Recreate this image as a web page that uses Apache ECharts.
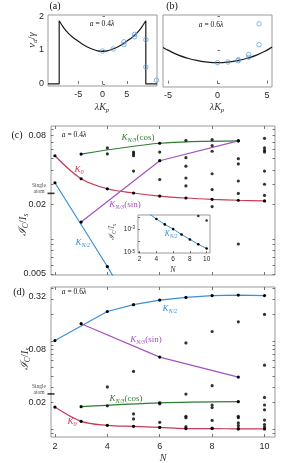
<!DOCTYPE html>
<html><head><meta charset="utf-8">
<script src="https://cdn.jsdelivr.net/npm/echarts@6/dist/echarts.min.js"></script>
<style>html,body{margin:0;padding:0;background:#fff}#c{width:287px;height:463px}</style>
</head><body><div id="c"></div>
<script>
// ---------- panel (a) ----------
const aCurveK = [-11.2, -8.9, -8.9, -8, -7, -6, -5, -4, -3, -2, -1, 0, 1, 2, 3, 4, 5, 6, 7, 8, 8.9, 8.9, 11.2];
const aCurveV = [0, 0, 1.86, 1.66, 1.49, 1.36, 1.26, 1.16, 1.08, 1.02, 0.975, 0.96, 0.975, 1.02, 1.08, 1.16, 1.26, 1.36, 1.49, 1.66, 1.86, 0, 0];
const aCircK = [0, 2.2, 4.4, 4.4, 6.6, 6.6, 8.9, 8.9, 11.1];
const aCircV = [0.97, 1.03, 1.24, 1.16, 1.46, 1.39, 1.3, 0.5, 0.11];
// ---------- panel (b) ----------
const bCurveK = [-5.5, -5, -4, -3, -2, -1, 0, 1, 2, 3, 4, 5, 5.5];
const bCurveV = [1.07, 0.99, 0.85, 0.75, 0.68, 0.635, 0.62, 0.635, 0.68, 0.75, 0.85, 0.99, 1.08];
const bCircK = [0, 1.05, 2.1, 2.1, 3.15, 3.15, 4.2, 4.2];
const bCircV = [0.62, 0.64, 0.71, 0.68, 0.86, 0.78, 1.77, 1.15];
// ---------- panel (c) ----------
const cN = [2, 3, 4, 5, 6, 7, 8, 9, 10];
const cK0 = [0.053, 0.0335, 0.0274, 0.0252, 0.0237, 0.0228, 0.0222, 0.0218, 0.0215];
const cCosN = [3, 6, 9], cCos = [0.0548, 0.068, 0.0714];
const cSinN = [3, 6, 9], cSin = [0.0141, 0.048, 0.0714];
const cHalfN = [2, 4, 6], cHalf = [0.0309, 0.0058, 0.001];
const cDotN = [4, 4, 5, 5, 5, 5, 6, 6, 7, 7, 7, 7, 7, 8, 8, 8, 8, 8, 8, 9, 9, 9, 9, 9, 10, 10, 10, 10, 10, 10, 10];
const cDotV = [0.062, 0.055, 0.057, 0.055, 0.053, 0.039, 0.057, 0.033, 0.072, 0.051, 0.043, 0.034, 0.029,
  0.073, 0.065, 0.058, 0.037, 0.027, 0.0192, 0.050, 0.045, 0.032, 0.025, 0.0091,
  0.075, 0.062, 0.059, 0.057, 0.039, 0.030, 0.024];
const singleAtom = 0.025;
// inset of (c)
const insN = [3, 4, 5, 6, 7, 8, 9, 10];
const insHalf = [0.024, 0.0072, 0.0025, 0.001, 0.00035, 0.000132, 0.000051, 0.0000224];
const insDotN = [9, 10], insDotV = [0.0129, 0.0054];
// ---------- panel (d) ----------
const dN = [2, 3, 4, 5, 6, 7, 8, 9, 10];
const dK0 = [0.0177, 0.0122, 0.011, 0.0107, 0.0104, 0.0101, 0.0101, 0.0100, 0.0100];
const dHalfN = [2, 4, 5, 6, 7, 8, 9, 10], dHalf = [0.101, 0.216, 0.258, 0.291, 0.312, 0.328, 0.332, 0.328];
const dSinN = [3, 6, 9], dSin = [0.157, 0.0655, 0.0388];
const dCosN = [3, 6, 9], dCos = [0.0179, 0.0198, 0.0204];
const dDotN = [4, 4, 5, 5, 5, 6, 6, 7, 7, 7, 7, 7, 8, 8, 8, 8, 8, 8, 9, 9, 9, 9, 9, 9, 10, 10, 10, 10, 10, 10, 10, 10];
const dDotV = [0.030, 0.0183, 0.045, 0.0148, 0.013, 0.0193, 0.0119, 0.095, 0.0249, 0.0139, 0.0134, 0.0106,
  0.128, 0.031, 0.0187, 0.0175, 0.0125, 0.0102, 0.165, 0.0139, 0.0134, 0.0117, 0.0109, 0.0101,
  0.2, 0.053, 0.0228, 0.0187, 0.0165, 0.0126, 0.0112, 0.0105];
// ---------- ticks ----------
const kTicksA = [-5, 0, 5], kTicksB = [-5, 0, 5], vTicks = [0, 1, 2];
const nTicks = [2, 4, 6, 8, 10];
const cLabels = [0.005, 0.02, 0.08], dLabels = [0.02, 0.08, 0.32], insLabels = [1e-5, 1e-3];
const cMinor = [0.005, 0.006, 0.007, 0.008, 0.009, 0.01, 0.02, 0.03, 0.04, 0.05, 0.06, 0.07, 0.08, 0.09];
const dMinor = [0.009, 0.01, 0.02, 0.03, 0.04, 0.05, 0.06, 0.07, 0.08, 0.09, 0.1, 0.2, 0.3, 0.4];
const insMinor = [1e-5, 1e-4, 1e-3, 1e-2];

const SANS = "'Liberation Sans', Arial, sans-serif";
const SERIF = "'Liberation Serif', 'DejaVu Serif', serif";
const RED = '#c73a55', GREEN = '#2f7d35', PURPLE = '#a452bd', BLUE = '#3b8fd8', CIRC = '#5a9ad6';
const pair = (xs, ys) => xs.map((x, i) => [x, ys[i]]);
const tickStyle = { color: '#555', width: 0.8 };
const fmtNum = v => String(+(+v).toPrecision(3));

function xAx(grid, min, max, ticks, showLabels, pos, extra) {
  return Object.assign({
    type: 'value', gridIndex: grid, min, max, position: pos || 'bottom',
    axisLine: { show: false }, splitLine: { show: false },
    axisTick: { show: true, inside: true, length: 3, customValues: ticks, lineStyle: tickStyle },
    axisLabel: { show: showLabels, customValues: ticks, margin: 4.5, fontSize: 9, fontFamily: SANS, color: '#262626', formatter: fmtNum }
  }, extra || {});
}
function yAx(grid, type, min, max, ticks, labels, showLabels, pos, extra) {
  return Object.assign({
    type, gridIndex: grid, min, max, position: pos || 'left',
    axisLine: { show: false }, splitLine: { show: false },
    axisTick: { show: true, inside: true, length: 2.5, customValues: ticks, lineStyle: tickStyle },
    axisLabel: { show: showLabels, customValues: labels, margin: 5, fontSize: 9, fontFamily: SANS, color: '#262626', formatter: fmtNum }
  }, extra || {});
}

const grids = [
  { left: 48, top: 15, width: 109, height: 71 },
  { left: 163, top: 15, width: 109, height: 72 },
  { left: 51, top: 126, width: 224, height: 149 },
  { left: 51, top: 287, width: 224, height: 150 },
  { left: 138, top: 215, width: 72, height: 38, zlevel: 1, backgroundColor: '#fff' }
].map(g => Object.assign({ show: true, borderColor: '#9a9a9a', borderWidth: 1, containLabel: false }, g));

const supFmt = v => (v < 1e-4 ? '{b|10}{p|-5}' : '{b|10}{p|-3}');

const xAxes = [
  xAx(0, -11.2, 11.2, kTicksA, true),
  xAx(1, -5.5, 5.5, kTicksB, true),
  xAx(2, 1.85, 10.4, nTicks, false),
  xAx(3, 1.85, 10.4, nTicks, true, 'bottom', {}),
  xAx(4, 1.8, 10.4, nTicks, true, 'bottom', { zlevel: 1 }),
  xAx(2, 1.85, 10.4, nTicks, false, 'top'),
  xAx(3, 1.85, 10.4, nTicks, false, 'top')
];
xAxes[3].axisLabel.margin = 5;
Object.assign(xAxes[4].axisLabel, { fontSize: 6.5, margin: 3 });
xAxes[4].axisTick.length = 2;

const yAxes = [
  yAx(0, 'value', -0.06, 2.03, vTicks, vTicks, true),
  yAx(1, 'value', -0.1, 2.03, vTicks, vTicks, false),
  yAx(2, 'log', 0.0049, 0.096, cMinor, cLabels, true),
  yAx(3, 'log', 0.0081, 0.41, dMinor, dLabels, true),
  yAx(4, 'log', 9.3e-6, 0.0158, insMinor, insLabels, true, 'left', { zlevel: 1 }),
  yAx(2, 'log', 0.0049, 0.096, cMinor, cLabels, false, 'right'),
  yAx(3, 'log', 0.0081, 0.41, dMinor, dLabels, false, 'right')
];
yAxes[0].axisLabel.margin = 4;
yAxes.forEach(a => { if (a.type === 'log') a.logBase = 10; });
Object.assign(yAxes[4].axisLabel, {
  margin: 3, formatter: supFmt,
  rich: { b: { fontSize: 6.5, fontFamily: SANS, color: '#262626' }, p: { fontSize: 4.5, fontFamily: SANS, color: '#262626', verticalAlign: 'top' } }
});
yAxes[4].axisTick.length = 2;

function lineS(xi, yi, data, color, opt) {
  return Object.assign({
    type: 'line', xAxisIndex: xi, yAxisIndex: yi, data, smooth: false,
    symbol: 'circle', symbolSize: 3.2, showSymbol: true,
    itemStyle: { color: '#000' }, lineStyle: { color, width: 1.2 }, z: 3
  }, opt || {});
}
function dotS(xi, yi, data, opt) {
  return Object.assign({
    type: 'scatter', xAxisIndex: xi, yAxisIndex: yi, data, symbol: 'circle', symbolSize: 3.2,
    itemStyle: { color: '#000' }, z: 4
  }, opt || {});
}
function atomS(xi, yi, xmin) {
  return {
    type: 'scatter', xAxisIndex: xi, yAxisIndex: yi, data: [[xmin, singleAtom]], clip: false,
    symbol: 'rect', symbolSize: [7, 1.6], itemStyle: { color: '#000' }, z: 5,
    label: { show: true, position: 'left', distance: 8.5, align: 'center', offset: [0, -4.5],
      formatter: 'Single\natom', fontSize: 5.5, lineHeight: 6, fontFamily: SERIF, color: '#222' }
  };
}
const hollow = { color: 'rgba(0,0,0,0)', borderColor: CIRC, borderWidth: 0.9 };

const series = [
  lineS(0, 0, pair(aCurveK, aCurveV), '#1a1a1a', { symbol: 'none', smooth: 0.2 }),
  dotS(0, 0, pair(aCircK, aCircV), { symbolSize: 4.5, itemStyle: hollow }),
  lineS(1, 1, pair(bCurveK, bCurveV), '#1a1a1a', { symbol: 'none', smooth: true }),
  dotS(1, 1, pair(bCircK, bCircV), { symbolSize: 4.5, itemStyle: hollow }),
  // (c)
  lineS(2, 2, pair(cN, cK0), RED, { smooth: 0.35 }),
  lineS(2, 2, pair(cCosN, cCos), GREEN, { smooth: 0.3 }),
  lineS(2, 2, pair(cSinN, cSin), PURPLE),
  lineS(2, 2, pair(cHalfN, cHalf), BLUE),
  dotS(2, 2, pair(cDotN, cDotV)),
  atomS(2, 2, 1.85),
  // inset
  lineS(4, 4, pair(insN, insHalf), BLUE, { zlevel: 1, symbolSize: 2.6, lineStyle: { color: BLUE, width: 1 } }),
  dotS(4, 4, pair(insDotN, insDotV), { zlevel: 1, symbolSize: 2.6 }),
  // (d)
  lineS(3, 3, pair(dN, dK0), RED, { smooth: 0.35 }),
  lineS(3, 3, pair(dHalfN, dHalf), BLUE),
  lineS(3, 3, pair(dSinN, dSin), PURPLE),
  lineS(3, 3, pair(dCosN, dCos), GREEN, { smooth: 0.3 }),
  dotS(3, 3, pair(dDotN, dDotV)),
  atomS(3, 3, 1.85)
];

// ---------- text helpers ----------
function txt(x, y, text, size, opt) {
  return { type: 'text', x, y, z: 100, zlevel: 2, style: Object.assign({
    text, fontSize: size, fontFamily: SERIF, fill: '#111', align: 'center', verticalAlign: 'middle' }, opt || {}) };
}
function richTxt(x, y, parts, size, color, rot) {
  // parts: array of [styleKey, text]
  const rich = {
    i: { fontSize: size, fontFamily: SERIF, fontStyle: 'italic', fill: color },
    n: { fontSize: size, fontFamily: SERIF, fill: color },
    s: { fontSize: size * 0.68, fontFamily: SERIF, fontStyle: 'italic', fill: color, verticalAlign: 'bottom' },
    sn: { fontSize: size * 0.68, fontFamily: SERIF, fill: color, verticalAlign: 'bottom' }
  };
  const text = parts.map(p => '{' + p[0] + '|' + p[1] + '}').join('');
  return { type: 'text', x, y, rotation: rot || 0, z: 100, zlevel: 2,
    style: { text, rich, fill: color, fontSize: size, fontFamily: SERIF, align: 'center', verticalAlign: 'middle', lineHeight: size * 1.25 } };
}
const Klab = (x, y, sub, suf, color, size) =>
  richTxt(x, y, [['i', 'K'], ['s', sub]].concat(suf ? [['n', suf]] : []), size || 9, color);
const aLab = (x, y, val) => richTxt(x, y, [['i', 'a'], ['n', ' = ' + val], ['i', 'λ']], 7.5, '#111');
const ICIs = (x, y, size) => richTxt(x, y, [['i', 'ℐ'], ['s', 'C'], ['n', '/'], ['i', 'I'], ['s', 's']], size, '#333', Math.PI / 2);

const graphic = [
  txt(55, 6, '(a)', 10), txt(172, 6, '(b)', 10),
  aLab(102, 24, '0.4'), aLab(211, 25, '0.6'),
  richTxt(32, 40, [['i', 'v'], ['s', 'd'], ['n', '/'], ['i', 'γ']], 10.5, '#333', Math.PI / 2),
  richTxt(102, 107, [['i', 'λK'], ['s', 'p']], 10, '#333'),
  richTxt(217, 107, [['i', 'λK'], ['s', 'p']], 10, '#333'),
  txt(17, 135, '(c)', 10),
  aLab(74, 135, '0.4'),
  Klab(138, 138, 'N/3', '(cos)', GREEN),
  Klab(79, 170, '0', '', RED),
  Klab(125, 205, 'N/3', '(sin)', PURPLE),
  Klab(83, 243, 'N/2', '', BLUE),
  ICIs(23, 225, 11),
  Klab(171, 234, 'N/2', '', BLUE, 7.5),
  ICIs(112, 232, 7.5),
  richTxt(173, 270, [['i', 'N']], 8, '#333'),
  txt(19, 292, '(d)', 10),
  aLab(74, 292, '0.6'),
  Klab(170, 309, 'N/2', '', BLUE),
  Klab(146, 340, 'N/3', '(sin)', PURPLE),
  Klab(126, 399, 'N/3', '(cos)', GREEN),
  Klab(72, 422, '0', '', RED),
  ICIs(25, 359, 11),
  richTxt(163, 458, [['i', 'N']], 10, '#333')
];

const chart = echarts.init(document.getElementById('c'), null, { renderer: 'canvas', width: 287, height: 463 });
chart.setOption({
  animation: false,
  backgroundColor: '#fff',
  grid: grids, xAxis: xAxes, yAxis: yAxes, series, graphic
});
</script></body></html>
